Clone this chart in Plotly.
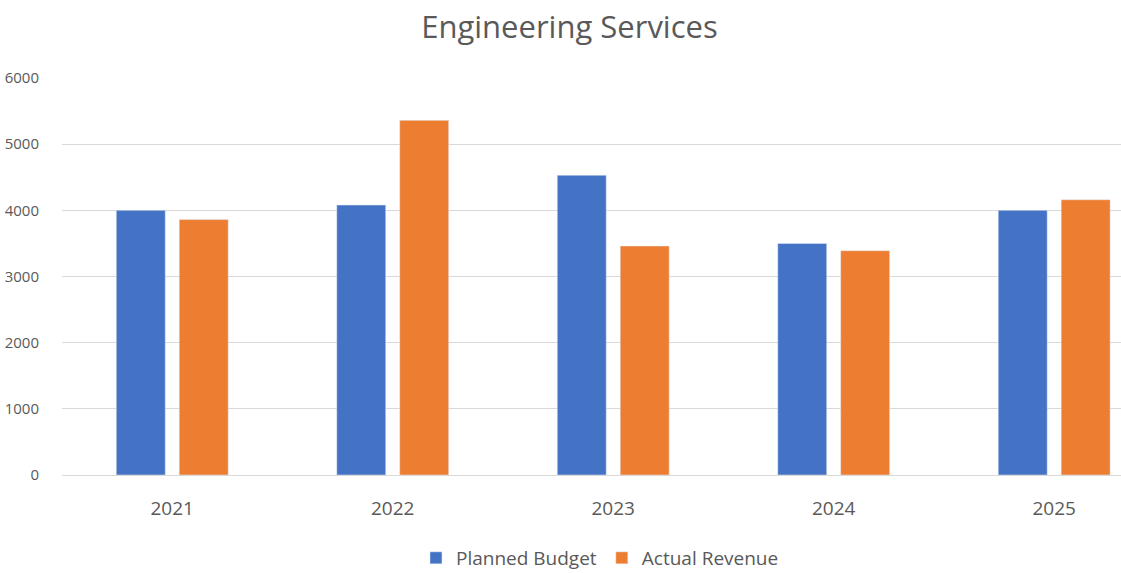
import plotly.graph_objects as go

years = ["2021", "2022", "2023", "2024", "2025"]
planned_budget = [4000, 4080, 4530, 3500, 4000]
actual_revenue = [3860, 5360, 3460, 3390, 4160]
y_ticks = [0, 1000, 2000, 3000, 4000, 5000, 6000]

font_family = "Open Sans, Lato, sans-serif"
gray = "#595959"

fig = go.Figure()
fig.add_trace(go.Bar(name="Planned Budget", x=years, y=planned_budget, marker_color="#4472C4"))
fig.add_trace(go.Bar(name="Actual Revenue", x=years, y=actual_revenue, marker_color="#ED7D31"))

fig.update_layout(
    width=1121, height=573,
    margin=dict(l=62, r=0, t=78, b=98, autoexpand=False),
    paper_bgcolor="white", plot_bgcolor="white",
    barmode="group", bargap=0.429, bargroupgap=0.222,
    title=dict(text="Engineering Services", x=0.508, xanchor="center", y=0.952, yanchor="middle",
               font=dict(family=font_family, size=31, color=gray)),
    font=dict(family=font_family, color=gray),
    legend=dict(orientation="h", x=0.508, xanchor="center", y=-0.209, yanchor="middle",
                font=dict(size=19, color=gray), itemwidth=30, tracegroupgap=0),
    xaxis=dict(range=[-0.5, 4.303], showgrid=False, showline=False, ticks="",
               tickfont=dict(size=19, color=gray), ticklabelstandoff=20, automargin=False),
    yaxis=dict(range=[0, 6000], tickvals=y_ticks, showgrid=True, gridcolor="#d9d9d9", gridwidth=1,
               zeroline=True, zerolinecolor="#d9d9d9", zerolinewidth=1, ticks="",
               tickfont=dict(size=15, color=gray), ticklabelstandoff=22, automargin=False),
)

fig.write_html("out.html")
